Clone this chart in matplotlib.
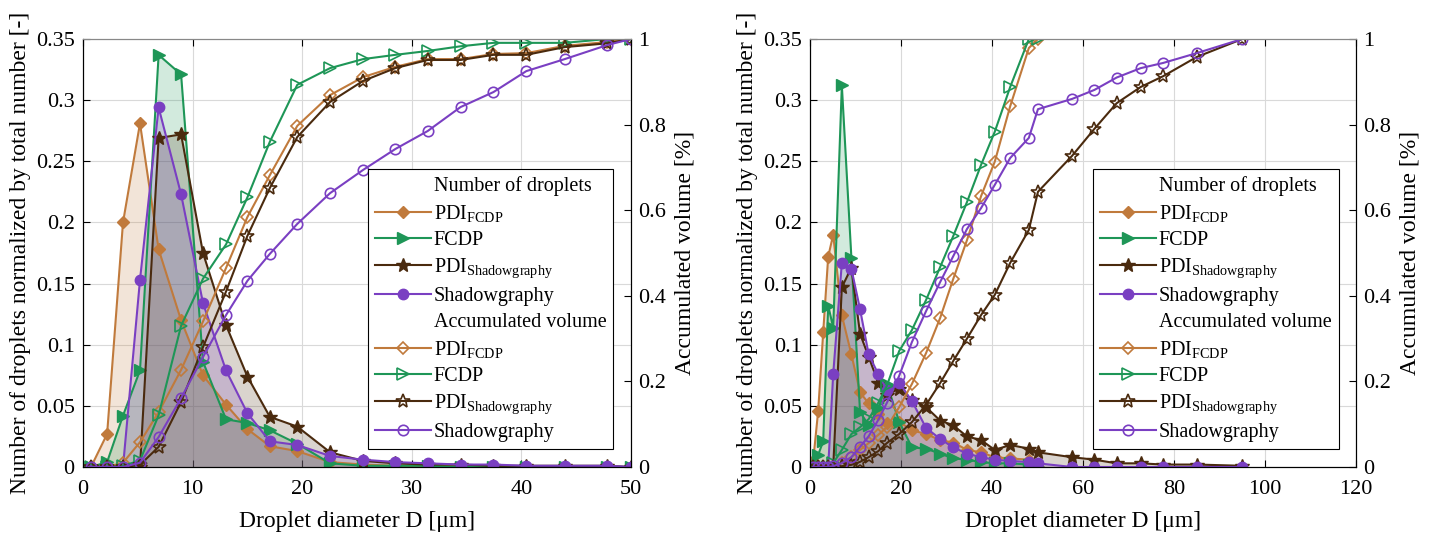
import matplotlib
matplotlib.use("Agg")
import matplotlib.pyplot as plt
from matplotlib.lines import Line2D
from matplotlib.ticker import FuncFormatter

plt.rcParams['font.family'] = ['Liberation Serif', 'DejaVu Serif']
plt.rcParams['mathtext.fontset'] = 'custom'
plt.rcParams['mathtext.rm'] = 'Liberation Serif'
plt.rcParams['mathtext.it'] = 'Liberation Serif:italic'

# --- dati pannello sinistro ---
x_left = [0.73, 2.2, 3.65, 5.2, 6.9, 8.95, 10.95, 13.05, 15.0, 17.05, 19.55,
          22.55, 25.55, 28.5, 31.45, 34.45, 37.45, 40.45, 43.95, 47.85, 50.0]

pdi_fcdp_n_left = [0, 0.027, 0.200, 0.281, 0.178, 0.120, 0.075, 0.051, 0.031, 0.017, 0.013,
                   0.004, 0.002, 0.001, 0.001, 0.001, 0.0005, 0.0005, 0, 0, 0]
fcdp_n_left = [0, 0.004, 0.042, 0.079, 0.337, 0.321, 0.086, 0.039, 0.036, 0.030, 0.019,
               0.003, 0.001, 0.001, 0.001, 0, 0, 0, 0, 0, 0]
pdi_sh_n_left = [0, 0, 0, 0, 0.269, 0.272, 0.175, 0.116, 0.074, 0.041, 0.033,
                 0.012, 0.005, 0.003, 0.002, 0.002, 0.001, 0.001, 0.001, 0.001, 0]
sh_n_left = [0, 0, 0, 0.153, 0.294, 0.223, 0.134, 0.079, 0.044, 0.021, 0.018,
             0.009, 0.006, 0.004, 0.003, 0.002, 0.002, 0.001, 0.001, 0.001, 0]

pdi_fcdp_c_left = [0, 0, 0.01, 0.058, 0.128, 0.227, 0.34, 0.465, 0.584, 0.682, 0.797,
                   0.869, 0.911, 0.935, 0.953, 0.953, 0.965, 0.967, 0.984, 0.993, 1.0]
fcdp_c_left = [0, 0, 0.003, 0.015, 0.121, 0.33, 0.44, 0.52, 0.63, 0.76, 0.893,
               0.932, 0.953, 0.963, 0.972, 0.983, 0.991, 0.991, 0.991, 1.0, 1.0]
pdi_sh_c_left = [0, 0, 0, 0.005, 0.047, 0.152, 0.28, 0.41, 0.54, 0.652, 0.771,
                 0.853, 0.902, 0.932, 0.951, 0.951, 0.963, 0.963, 0.981, 0.99, 1.0]
sh_c_left = [0, 0, 0, 0.01, 0.07, 0.161, 0.257, 0.355, 0.435, 0.498, 0.568,
             0.64, 0.694, 0.743, 0.785, 0.841, 0.876, 0.925, 0.953, 0.986, 1.0]

# --- dati pannello destro ---
x_right_fcdp = [0.7, 1.8, 2.9, 4.0, 5.1, 7.0, 9.1, 11.0, 12.9, 15.0, 16.9, 19.6, 22.4,
                25.5, 28.6, 31.5, 34.5, 37.6, 40.6, 44.0, 48.1, 50.1]
x_right_sh = x_right_fcdp + [57.6, 62.5, 67.4, 72.7, 77.6, 85.0, 95.0]

pdi_fcdp_n_right = [0.005, 0.046, 0.11, 0.172, 0.190, 0.124, 0.092, 0.061, 0.052, 0.043, 0.036,
                    0.037, 0.030, 0.027, 0.022, 0.020, 0.014, 0.012, 0.008, 0.007, 0.006, 0.0]
fcdp_n_right = [0.002, 0.010, 0.021, 0.132, 0.114, 0.312, 0.171, 0.045, 0.034, 0.048, 0.068,
                0.037, 0.016, 0.015, 0.011, 0.007, 0.006, 0.004, 0.003, 0.003, 0.002, 0.0]
pdi_sh_n_right = [0, 0, 0, 0, 0, 0.147, 0.163, 0.109, 0.090, 0.069, 0.059, 0.064, 0.055,
                  0.049, 0.038, 0.034, 0.025, 0.022, 0.014, 0.018, 0.015, 0.012,
                  0.008, 0.006, 0.003, 0.003, 0.002, 0.002, 0.001]
sh_n_right = [0, 0, 0, 0, 0.076, 0.167, 0.162, 0.129, 0.092, 0.076, 0.063, 0.069, 0.054,
              0.032, 0.023, 0.016, 0.011, 0.008, 0.006, 0.005, 0.004, 0.003,
              0, 0, 0, 0, 0, 0, 0]

pdi_fcdp_c_right = [0, 0, 0, 0, 0, 0.009, 0.023, 0.04, 0.056, 0.075, 0.093, 0.14, 0.194,
                    0.266, 0.348, 0.44, 0.53, 0.633, 0.713, 0.843, 0.979, 1.0]
fcdp_c_right = [0, 0, 0, 0, 0.009, 0.04, 0.077, 0.093, 0.112, 0.15, 0.19, 0.271, 0.32,
                0.39, 0.467, 0.54, 0.619, 0.706, 0.783, 0.888, 1.0, 1.0]
pdi_sh_c_right = [0, 0, 0, 0, 0, 0.002, 0.005, 0.012, 0.023, 0.037, 0.056, 0.077, 0.105,
                  0.145, 0.196, 0.248, 0.300, 0.355, 0.402, 0.477, 0.554, 0.643,
                  0.727, 0.790, 0.850, 0.888, 0.913, 0.958, 1.0]
sh_c_right = [0, 0, 0, 0, 0.002, 0.009, 0.023, 0.047, 0.072, 0.11, 0.15, 0.213, 0.292,
              0.364, 0.432, 0.493, 0.556, 0.605, 0.659, 0.722, 0.769, 0.836,
              0.86, 0.881, 0.91, 0.932, 0.944, 0.967, 1.0]

labels = ['PDI$_{\\mathrm{FCDP}}$', 'FCDP', 'PDI$_{\\mathrm{Shadowgraphy}}$', 'Shadowgraphy']
colors = ['#C07A3C', '#1E9657', '#4A2A0E', '#7A3FC2']
markers = ['D', '>', '*', 'o']
msizes = [6, 8, 10, 7.5]


def disegna_pannello(ax, xs_n, ys_n, xs_c, ys_c, xlim, xticks):
    ax2 = ax.twinx()
    h_n, h_c = [], []

    # distribuzione numerica con area riempita
    for x, y, c, m, ms, lab in zip(xs_n, ys_n, colors, markers, msizes, labels):
        ax.fill_between(x, y, 0, color=c, alpha=0.2, linewidth=0)
        h, = ax.plot(x, y, color=c, marker=m, markersize=ms, linewidth=1.5, label=lab)
        h_n.append(h)

    # volume accumulato (marker vuoti)
    for x, y, c, m, ms, lab in zip(xs_c, ys_c, colors, markers, msizes, labels):
        h, = ax2.plot(x, y, color=c, marker=m, markersize=ms, markerfacecolor='none',
                      markeredgewidth=1.2, linewidth=1.5, label=lab)
        h_c.append(h)

    ax.set_xlim(*xlim)
    ax.set_xticks(xticks)
    ax.set_ylim(0, 0.35)
    ax.set_yticks([0, 0.05, 0.1, 0.15, 0.2, 0.25, 0.3, 0.35])
    ax2.set_ylim(0, 1)
    ax2.set_yticks([0, 0.2, 0.4, 0.6, 0.8, 1.0])
    fmt = FuncFormatter(lambda v, p: f"{v:g}")
    ax.yaxis.set_major_formatter(fmt)
    ax2.yaxis.set_major_formatter(fmt)

    ax.grid(True, color='#d9d9d9', linewidth=0.8)
    ax.set_axisbelow(True)
    ax.tick_params(direction='in', top=True, labelsize=16, length=5)
    ax.tick_params(axis='x', pad=9)
    ax.tick_params(axis='y', pad=6)
    ax2.tick_params(direction='in', labelsize=16, length=5, pad=5)
    ax.spines['top'].set_color('#888888')
    ax2.spines['top'].set_color('#888888')

    ax.set_xlabel("Droplet diameter D [\u03bcm]", fontsize=17, labelpad=9)
    ax.set_ylabel("Number of droplets normalized by total number [-]", fontsize=17, labelpad=3)
    ax2.set_ylabel("Accumulated volume [%]", fontsize=17, labelpad=6)

    # legenda con intestazioni
    vuoto1 = Line2D([], [], linestyle='none', marker='none', label='Number of droplets')
    vuoto2 = Line2D([], [], linestyle='none', marker='none', label='Accumulated volume')
    handles = [vuoto1] + h_n + [vuoto2] + h_c
    leg = ax2.legend(handles=handles, loc='lower right', bbox_to_anchor=(0.968, 0.042),
                     fontsize=14.5, frameon=True, fancybox=False, edgecolor='black',
                     framealpha=1, handlelength=2.75, labelspacing=0.34,
                     borderpad=0.35, handletextpad=0.15, borderaxespad=0)
    leg.get_frame().set_linewidth(0.8)


fig = plt.figure(figsize=(14.34, 5.34), dpi=100)
ax_l = fig.add_axes([83 / 1434, 67 / 534, 548 / 1434, 428 / 534])
ax_r = fig.add_axes([810 / 1434, 67 / 534, 546 / 1434, 428 / 534])

disegna_pannello(ax_l,
                 [x_left] * 4,
                 [pdi_fcdp_n_left, fcdp_n_left, pdi_sh_n_left, sh_n_left],
                 [x_left] * 4,
                 [pdi_fcdp_c_left, fcdp_c_left, pdi_sh_c_left, sh_c_left],
                 (0, 50), [0, 10, 20, 30, 40, 50])

disegna_pannello(ax_r,
                 [x_right_fcdp, x_right_fcdp, x_right_sh, x_right_sh],
                 [pdi_fcdp_n_right, fcdp_n_right, pdi_sh_n_right, sh_n_right],
                 [x_right_fcdp, x_right_fcdp, x_right_sh, x_right_sh],
                 [pdi_fcdp_c_right, fcdp_c_right, pdi_sh_c_right, sh_c_right],
                 (0, 120), [0, 20, 40, 60, 80, 100, 120])

fig.savefig("out.png", dpi=100)
